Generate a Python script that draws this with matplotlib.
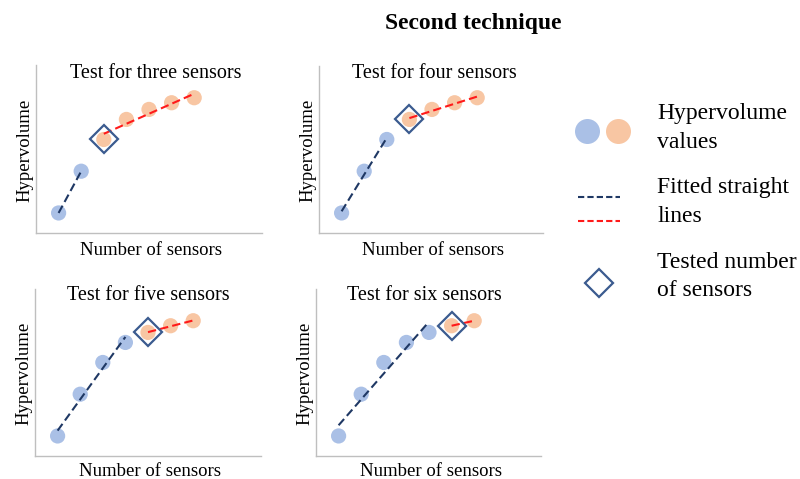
import numpy as np
import matplotlib
matplotlib.use('Agg')
import matplotlib.pyplot as plt

# ======================
# DATA
# ======================
n_sensors = [1, 2, 3, 4, 5, 6, 7]
hypervolume = [0.12, 0.37, 0.56, 0.68, 0.74, 0.78, 0.81]
tested = [3, 4, 5, 6]
panel_titles = ['Test for three sensors', 'Test for four sensors',
                'Test for five sensors', 'Test for six sensors']

# ======================
# STYLE
# ======================
plt.rcParams['font.family'] = ['Liberation Serif', 'DejaVu Serif']
blue_pt = '#aac0e6'
orange_pt = '#f8c6a3'
navy = '#1f3864'
red = '#ff1a1a'
diamond_c = '#3b5b8f'
spine_c = '#bfbfbf'

W, H = 800, 479
fig = plt.figure(figsize=(8, 4.79), dpi=100)

def px_axes(left, right, top, bottom):
    return fig.add_axes([left / W, 1 - bottom / H, (right - left) / W, (bottom - top) / H])

# axes boxes in pixels: left, right, top, bottom
boxes = [(36, 262, 65, 233), (319, 543, 66, 233), (35, 261, 289, 456), (316, 541, 289, 456)]
title_pos = [(156, 73), (434, 73), (148, 295), (424, 295)]
ylabel_x = [25, 308, 24, 305]
xlabel_y = [250, 250, 472, 472]

x = np.array(n_sensors)
y = np.array(hypervolume)

for i, k in enumerate(tested):
    l, r, t, b = boxes[i]
    ax = px_axes(l, r, t, b)
    ax.set_xlim(0, (r - l) / 22.6)
    ax.set_ylim(0, (b - t) / 167.0)

    before = x < k
    after = x >= k
    ax.scatter(x[before], y[before], s=120, color=blue_pt, edgecolor='none', zorder=2)
    ax.scatter(x[after], y[after], s=120, color=orange_pt, edgecolor='none', zorder=2)

    # fitted straight lines
    pb = np.polyfit(x[before], y[before], 1)
    xb = np.array([x[before][0], x[before][-1]])
    ax.plot(xb, np.polyval(pb, xb), color=navy, ls=(0, (4, 2)), lw=1.5, zorder=3)
    pa = np.polyfit(x[after], y[after], 1)
    xa = np.array([x[after][0], x[after][-1]])
    ax.plot(xa, np.polyval(pa, xa), color=red, ls=(0, (4, 2)), lw=1.5, zorder=3)

    # tested number of sensors
    ax.plot([k], [y[k - 1]], marker='D', ms=14, mfc='none', mec=diamond_c, mew=1.6, zorder=4)

    for s in ['top', 'right']:
        ax.spines[s].set_visible(False)
    for s in ['left', 'bottom']:
        ax.spines[s].set_color(spine_c)
        ax.spines[s].set_linewidth(1.0)
    ax.set_xticks([])
    ax.set_yticks([])

    fig.text(title_pos[i][0] / W, 1 - title_pos[i][1] / H, panel_titles[i],
             ha='center', va='center', fontsize=14.5)
    fig.text(((l + r) / 2 + 2) / W, 1 - xlabel_y[i] / H, 'Number of sensors',
             ha='center', va='center', fontsize=13.5)
    fig.text(ylabel_x[i] / W, 1 - ((t + b) / 2 + 1) / H, 'Hypervolume',
             ha='center', va='center', rotation=90, fontsize=13.5)

fig.text(473 / W, 1 - 23 / H, 'Second technique', ha='center', va='center',
         fontsize=17, fontweight='bold')

# ======================
# LEGEND (drawn by hand)
# ======================
lax = fig.add_axes([0, 0, 1, 1])
lax.set_xlim(0, W)
lax.set_ylim(H, 0)
lax.axis('off')
lax.plot([587], [131], marker='o', ms=18, color=blue_pt, mec='none')
lax.plot([618], [131], marker='o', ms=18, color=orange_pt, mec='none')
lax.plot([578, 620], [197, 197], color=navy, ls=(0, (3, 1.5)), lw=1.5)
lax.plot([578, 620], [221, 221], color=red, ls=(0, (3, 1.5)), lw=1.5)
lax.plot([599], [283], marker='D', ms=14, mfc='none', mec=diamond_c, mew=1.6)

leg_fs = 17
lax.text(657, 113, 'Hypervolume', va='center', ha='left', fontsize=leg_fs)
lax.text(657, 143, 'values', va='center', ha='left', fontsize=leg_fs)
lax.text(657, 188, 'Fitted straight', va='center', ha='left', fontsize=leg_fs)
lax.text(657, 217, 'lines', va='center', ha='left', fontsize=leg_fs)
lax.text(657, 262, 'Tested number', va='center', ha='left', fontsize=leg_fs)
lax.text(657, 290, 'of sensors', va='center', ha='left', fontsize=leg_fs)

plt.savefig('out.png', dpi=100)
